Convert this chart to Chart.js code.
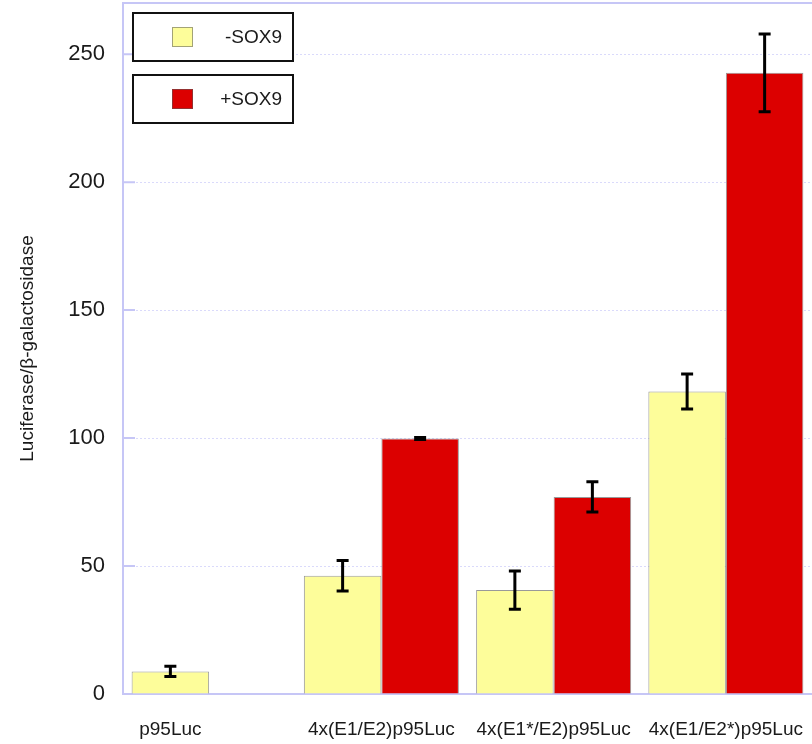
<!DOCTYPE html>
<html>
<head>
<meta charset="utf-8">
<script src="https://cdn.jsdelivr.net/npm/chart.js@4.4.1/dist/chart.umd.min.js"></script>
<style>
  html, body { margin: 0; padding: 0; background: #ffffff; }
  #wrap { width: 812px; height: 744px; }
</style>
</head>
<body>
<div id="wrap"><canvas id="chart" width="812" height="744"></canvas></div>
<script>
// Reporter constructs on the x axis
const constructs = ['p95Luc', '4x(E1/E2)p95Luc', '4x(E1*/E2)p95Luc', '4x(E1/E2*)p95Luc'];

// Luciferase/beta-galactosidase activity without and with SOX9, with error ranges
const minusSox9 = [8.8, 46.2, 40.6, 118.2];
const minusSox9Err = [2.0, 6.0, 7.5, 6.8];
const plusSox9 = [null, 99.8, 77.0, 242.7];
const plusSox9Err = [null, 0.4, 5.9, 15.2];

// Value axis
const yMin = 0;
const yMax = 270;
const yTickValues = [0, 50, 100, 150, 200, 250];

const FONT = "'Liberation Sans', Arial, sans-serif";
const TEXT = '#1a1a1a';
const AXIS = '#c6c6f6';

// Error bars drawn from each dataset's "errors" array through the value scale
const errorBarPlugin = {
  id: 'errorBars',
  afterDatasetsDraw(chart) {
    const ctx = chart.ctx;
    const y = chart.scales.y;
    chart.data.datasets.forEach((ds, di) => {
      const meta = chart.getDatasetMeta(di);
      meta.data.forEach((bar, i) => {
        const v = ds.data[i];
        const e = ds.errors[i];
        if (v == null || e == null) return;
        const top = y.getPixelForValue(v + e);
        const bot = y.getPixelForValue(v - e);
        ctx.save();
        ctx.strokeStyle = '#000';
        ctx.lineWidth = 3;
        ctx.beginPath();
        ctx.moveTo(bar.x, top);
        ctx.lineTo(bar.x, bot);
        ctx.moveTo(bar.x - 6, top);
        ctx.lineTo(bar.x + 6, top);
        ctx.moveTo(bar.x - 6, bot);
        ctx.lineTo(bar.x + 6, bot);
        ctx.stroke();
        ctx.restore();
      });
    });
  }
};

// Top frame edge and short inward tick marks on the value axis
const framePlugin = {
  id: 'frame',
  beforeDatasetsDraw(chart) {
    const ctx = chart.ctx;
    const area = chart.chartArea;
    const y = chart.scales.y;
    ctx.save();
    ctx.strokeStyle = AXIS;
    ctx.lineWidth = 2;
    ctx.beginPath();
    ctx.moveTo(area.left, area.top);
    ctx.lineTo(area.right, area.top);
    y.ticks.forEach(t => {
      const py = y.getPixelForValue(t.value);
      ctx.moveTo(area.left, py);
      ctx.lineTo(area.left + 12, py);
    });
    ctx.stroke();
    ctx.restore();
  }
};

// Category labels centred under the bars that are present in each group
const categoryLabelPlugin = {
  id: 'categoryLabels',
  afterDraw(chart) {
    const ctx = chart.ctx;
    const area = chart.chartArea;
    ctx.save();
    ctx.font = '19px ' + FONT;
    ctx.fillStyle = TEXT;
    ctx.textAlign = 'center';
    ctx.textBaseline = 'alphabetic';
    chart.data.labels.forEach((label, i) => {
      const xs = [];
      chart.data.datasets.forEach((ds, di) => {
        if (ds.data[i] != null) xs.push(chart.getDatasetMeta(di).data[i].x);
      });
      const cx = xs.reduce((a, b) => a + b, 0) / xs.length;
      ctx.fillText(label, cx, area.bottom + 41);
    });
    ctx.restore();
  }
};

// Legend: one framed box per series
const boxedLegendPlugin = {
  id: 'boxedLegend',
  afterDraw(chart) {
    const ctx = chart.ctx;
    ctx.save();
    chart.data.datasets.forEach((ds, i) => {
      const top = 13 + i * 62;
      ctx.fillStyle = '#ffffff';
      ctx.fillRect(133, top, 160, 48);
      ctx.strokeStyle = '#111';
      ctx.lineWidth = 2;
      ctx.strokeRect(133, top, 160, 48);
      ctx.fillStyle = ds.backgroundColor;
      ctx.fillRect(172, top + 14, 21, 20);
      ctx.strokeStyle = 'rgba(90,90,90,0.55)';
      ctx.lineWidth = 1;
      ctx.strokeRect(172.5, top + 14.5, 20, 19);
      ctx.fillStyle = TEXT;
      ctx.font = '19px ' + FONT;
      ctx.textAlign = 'right';
      ctx.textBaseline = 'middle';
      ctx.fillText(ds.label, 282, top + 25);
    });
    ctx.restore();
  }
};

new Chart(document.getElementById('chart'), {
  type: 'bar',
  data: {
    labels: constructs,
    datasets: [
      {
        label: '-SOX9',
        data: minusSox9,
        errors: minusSox9Err,
        backgroundColor: '#fdfd9a',
        borderColor: 'rgba(110,110,110,0.7)',
        borderWidth: 1
      },
      {
        label: '+SOX9',
        data: plusSox9,
        errors: plusSox9Err,
        backgroundColor: '#dc0000',
        borderColor: 'rgba(110,110,110,0.7)',
        borderWidth: 1
      }
    ]
  },
  options: {
    responsive: false,
    animation: false,
    devicePixelRatio: 1,
    layout: { padding: { top: 3, right: 0, bottom: 0, left: 0 } },
    datasets: {
      bar: { categoryPercentage: 0.9, barPercentage: 1.0 }
    },
    plugins: {
      legend: { display: false },
      tooltip: { enabled: false }
    },
    scales: {
      x: {
        grid: { display: false, drawTicks: false },
        border: { display: true, color: AXIS, width: 2 },
        ticks: { display: false },
        afterFit(scale) { scale.height = 50; }
      },
      y: {
        min: yMin,
        max: yMax,
        afterBuildTicks(scale) {
          scale.ticks = yTickValues.map(v => ({ value: v }));
        },
        ticks: {
          padding: 18,
          color: TEXT,
          font: { family: FONT, size: 22 }
        },
        grid: { color: '#dadafb', lineWidth: 1, drawTicks: false },
        border: { display: true, color: AXIS, width: 2, dash: [2, 2] },
        title: {
          display: true,
          text: 'Luciferase/β-galactosidase',
          color: TEXT,
          font: { family: FONT, size: 19 },
          padding: { top: 16, bottom: 0 }
        },
        afterFit(scale) {
          scale.width = 123;
          scale.paddingTop = 0;
          scale.paddingBottom = 0;
        }
      }
    }
  },
  plugins: [framePlugin, errorBarPlugin, categoryLabelPlugin, boxedLegendPlugin]
});
</script>
</body>
</html>
